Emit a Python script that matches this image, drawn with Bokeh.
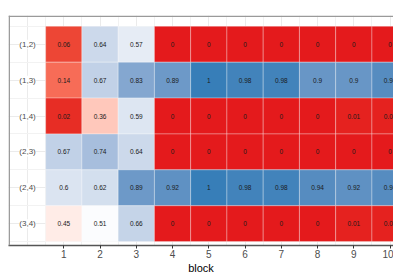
import numpy as np
from bokeh.plotting import figure
from bokeh.models import (ColumnDataSource, LinearColorMapper, FixedTicker, Span)
from bokeh.transform import transform
from bokeh.core.properties import value
from bokeh.embed import file_html
from bokeh.resources import INLINE

# ---- data ----
blocks = [1, 2, 3, 4, 5, 6, 7, 8, 9, 10]
pairs = ["(1,2)", "(1,3)", "(1,4)", "(2,3)", "(2,4)", "(3,4)"]
p12 = [0.06, 0.64, 0.57, 0, 0, 0, 0, 0, 0, 0]
p13 = [0.14, 0.67, 0.83, 0.89, 1, 0.98, 0.98, 0.9, 0.9, 0.94]
p14 = [0.02, 0.36, 0.59, 0, 0, 0, 0, 0, 0.01, 0.01]
p23 = [0.67, 0.74, 0.64, 0, 0, 0, 0, 0, 0, 0]
p24 = [0.6, 0.62, 0.89, 0.92, 1, 0.98, 0.98, 0.94, 0.92, 0.94]
p34 = [0.45, 0.51, 0.66, 0, 0, 0, 0, 0, 0.01, 0.01]
rows = [p12, p13, p14, p23, p24, p34]
x_title = "block"

# ---- colour palette: red -> white -> blue, interpolated in Lab ----
def srgb_to_lin(c):
    c = c / 255.0
    return np.where(c <= 0.04045, c / 12.92, ((c + 0.055) / 1.055) ** 2.4)

def lin_to_srgb(c):
    c = np.clip(c, 0, 1)
    v = np.where(c <= 0.0031308, 12.92 * c, 1.055 * c ** (1 / 2.4) - 0.055)
    return np.clip(np.round(v * 255), 0, 255).astype(int)

M = np.array([[0.4124, 0.3576, 0.1805], [0.2126, 0.7152, 0.0722], [0.0193, 0.1192, 0.9505]])
Minv = np.linalg.inv(M)
WP = np.array([0.95047, 1.0, 1.08883])

def f(t):
    d = 6 / 29
    return np.where(t > d ** 3, np.cbrt(t), t / (3 * d * d) + 4 / 29)

def finv(t):
    d = 6 / 29
    return np.where(t > d, t ** 3, 3 * d * d * (t - 4 / 29))

def hex_to_lab(h):
    rgb = np.array([int(h[i:i + 2], 16) for i in (1, 3, 5)], dtype=float)
    xyz = M @ srgb_to_lin(rgb) / WP
    fx, fy, fz = f(xyz)
    return np.array([116 * fy - 16, 500 * (fx - fy), 200 * (fy - fz)])

def lab_to_hex(lab):
    L, a, b = lab
    fy = (L + 16) / 116
    fx = fy + a / 500
    fz = fy - b / 200
    xyz = finv(np.array([fx, fy, fz])) * WP
    r, g, bb = lin_to_srgb(Minv @ xyz)
    return "#%02x%02x%02x" % (r, g, bb)

low, mid, high = hex_to_lab("#E41A1C"), hex_to_lab("#FFFFFF"), hex_to_lab("#377EB8")
palette = []
for t in np.linspace(0, 1, 256):
    if t <= 0.5:
        s = t / 0.5
        palette.append(lab_to_hex(low + (mid - low) * s))
    else:
        s = (t - 0.5) / 0.5
        palette.append(lab_to_hex(mid + (high - mid) * s))
mapper = LinearColorMapper(palette=palette, low=0, high=1)

# ---- source ----
xs, ys, vals, labs = [], [], [], []
for i, row in enumerate(rows):
    for b, v in zip(blocks, row):
        xs.append(b)
        ys.append(len(pairs) - i)
        vals.append(v)
        labs.append(f"{v:g}")
src = ColumnDataSource(dict(x=xs, y=ys, v=vals, lab=labs))

X0, X1 = -0.525, 10.095
Y0, Y1 = 0.392, 6.801
p = figure(width=393, height=276, x_range=(X0, X1), y_range=(Y0, Y1),
           output_backend="svg", toolbar_location=None, y_axis_location=None,
           min_border_left=8, min_border_right=0, min_border_top=15, min_border_bottom=0)
p.background_fill_color = "white"
p.border_fill_color = "white"
p.outline_line_color = None

# grid
p.xgrid.ticker = FixedTicker(ticks=list(range(0, 11)), minor_ticks=[k + 0.5 for k in range(-1, 11)])
p.ygrid.ticker = FixedTicker(ticks=list(range(1, 7)), minor_ticks=[k + 0.5 for k in range(0, 7)])
for g in (p.xgrid, p.ygrid):
    g.grid_line_color = "#ebebeb"
    g.grid_line_width = 1
    g.minor_grid_line_color = "#f2f2f2"
    g.minor_grid_line_width = 1

p.rect(x="x", y="y", width=1, height=1, source=src,
       fill_color=transform("v", mapper), line_color="white", line_alpha=0.3, line_width=1)
p.text(x="x", y="y", text="lab", source=src, text_align="center", text_baseline="middle",
       text_font_size="6.5px", text_color="#1a1a1a", text_font=value("Liberation Sans"))

# y labels inside panel
ylab_src = ColumnDataSource(dict(x=[0] * len(pairs), y=[len(pairs) - i for i in range(len(pairs))], t=pairs))
p.text(x="x", y="y", text="t", source=ylab_src, text_align="center", text_baseline="middle",
       text_font_size="8px", text_color="#4d4d4d", text_font=value("Liberation Sans"),
       background_fill_color="white")

# x axis
ax = p.xaxis[0]
ax.ticker = FixedTicker(ticks=blocks)
ax.axis_line_color = "#555555"
ax.axis_line_width = 1.5
ax.major_tick_line_color = "#333333"
ax.major_tick_out = 3
ax.major_tick_in = 0
ax.minor_tick_line_color = None
ax.major_label_text_font_size = "10px"
ax.major_label_text_color = "#4d4d4d"
ax.major_label_text_font = "Liberation Sans"
ax.major_label_standoff = 1
ax.axis_label = x_title
ax.axis_label_text_font_size = "11px"
ax.axis_label_text_font_style = "normal"
ax.axis_label_text_color = "black"
ax.axis_label_text_font = "Liberation Sans"
ax.axis_label_text_align = "left"
ax.axis_label_standoff = 1

# panel border (top and left), drawn just inside the frame
p.add_layout(Span(location=Y1 - 0.02, dimension="width", line_color="#9a9a9a", line_width=1.5))
p.add_layout(Span(location=X0 + 0.02, dimension="height", line_color="#9a9a9a", line_width=1.5))

open("out.html", "w").write(file_html(p, INLINE))
